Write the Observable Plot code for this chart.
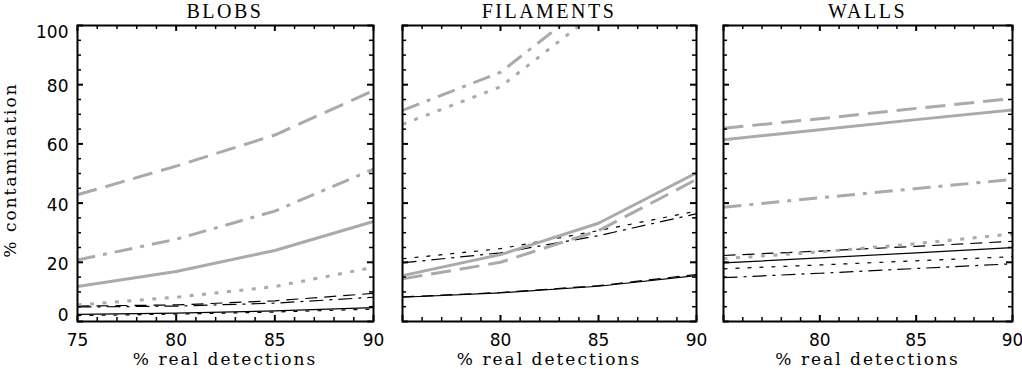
<!DOCTYPE html>
<html>
<head>
<meta charset="utf-8">
<script src="https://cdn.jsdelivr.net/npm/d3@7"></script>
<script src="https://cdn.jsdelivr.net/npm/@observablehq/plot@0.6"></script>
<style>
  html, body { margin: 0; padding: 0; background: #fff; }
  #chart { position: relative; width: 1022px; height: 369px; overflow: hidden; background: #fff; }
  #chart svg { position: absolute; left: 0; top: 0; }
  .ptitle { position: absolute; top: 1px; height: 20px; line-height: 20px; text-align: center;
            font-family: "Liberation Serif", serif; font-size: 20px; letter-spacing: 2.5px; color: #000; }
  .xtitle { position: absolute; top: 349px; height: 20px; line-height: 20px; text-align: center;
            font-family: "DejaVu Serif", serif; font-size: 17px; letter-spacing: 2px; color: #000; }
  .ytitle { position: absolute; left: -90px; top: 159px; width: 200px; height: 22px; line-height: 22px;
            text-align: center; transform: rotate(-90deg); transform-origin: 50% 50%;
            font-family: "DejaVu Serif", serif; font-size: 17px; letter-spacing: 2px; color: #000; }
</style>
</head>
<body>
<div id="chart"></div>
<script>
// ---------------- data ----------------
const xValues = [75, 80, 85, 90];
const panelNames = ["BLOBS", "FILAMENTS", "WALLS"];
const xTitle = "% real detections";
const yTitle = "% contamination";
const xTickLabelsFirst = [75, 80, 85, 90];
const xTickLabelsOther = [80, 85, 90];
const yTickLabels = [0, 20, 40, 60, 80, 100];

// BLOBS
const blobsGreySolid    = [11.8, 16.9, 24.0, 33.8];
const blobsGreyDashed   = [42.8, 52.5, 63.0, 78.0];
const blobsGreyDashDot  = [20.8, 27.8, 37.3, 51.5];
const blobsGreyDotted   = [5.6, 8.2, 11.8, 18.3];
const blobsBlackSolid   = [2.4, 2.8, 3.6, 4.7];
const blobsBlackDashed  = [5.2, 5.6, 7.0, 9.5];
const blobsBlackDashDot = [4.9, 5.2, 6.2, 8.2];
const blobsBlackDotted  = [2.0, 2.5, 3.2, 4.2];

// FILAMENTS
const filGreySolid    = [15.5, 22.6, 33.2, 50.2];
const filGreyDashed   = [14.4, 20.0, 30.7, 48.0];
const filGreyDashDot  = [71.3, 84.2, 110.0, 140.0];
const filGreyDotted   = [66.6, 79.3, 105.0, 135.0];
const filBlackSolid   = [8.2, 9.7, 11.9, 15.5];
const filBlackDashed  = [8.3, 9.8, 12.1, 15.9];
const filBlackDashDot = [19.8, 23.2, 29.0, 36.4];
const filBlackDotted  = [21.2, 24.6, 30.7, 37.3];

// WALLS
const wallsGreySolid    = [61.4, 64.8, 68.2, 71.5];
const wallsGreyDashed   = [65.3, 68.5, 72.0, 75.3];
const wallsGreyDashDot  = [38.6, 41.8, 44.9, 48.0];
const wallsGreyDotted   = [21.2, 23.5, 26.3, 29.6];
const wallsBlackSolid   = [19.8, 21.5, 23.2, 25.0];
const wallsBlackDashed  = [22.3, 23.8, 25.4, 27.1];
const wallsBlackDashDot = [14.8, 16.3, 17.9, 19.5];
const wallsBlackDotted  = [17.8, 19.1, 20.5, 21.9];

const seriesNames = ["greySolid", "greyDashed", "greyDashDot", "greyDotted",
                     "blackSolid", "blackDashed", "blackDashDot", "blackDotted"];
const panelSeries = [
  [blobsGreySolid, blobsGreyDashed, blobsGreyDashDot, blobsGreyDotted,
   blobsBlackSolid, blobsBlackDashed, blobsBlackDashDot, blobsBlackDotted],
  [filGreySolid, filGreyDashed, filGreyDashDot, filGreyDotted,
   filBlackSolid, filBlackDashed, filBlackDashDot, filBlackDotted],
  [wallsGreySolid, wallsGreyDashed, wallsGreyDashDot, wallsGreyDotted,
   wallsBlackSolid, wallsBlackDashed, wallsBlackDashDot, wallsBlackDotted]
];

// ---------------- styles / layout ----------------
const GREY = "#aaaaaa";
const seriesStyle = {
  greySolid:    {stroke: GREY, strokeWidth: 3, strokeDasharray: null},
  greyDashed:   {stroke: GREY, strokeWidth: 3, strokeDasharray: "20,9"},
  greyDashDot:  {stroke: GREY, strokeWidth: 3, strokeDasharray: "18,8,4,8"},
  greyDotted:   {stroke: GREY, strokeWidth: 3, strokeDasharray: "4,8.5"},
  blackSolid:   {stroke: "#000", strokeWidth: 1.2, strokeDasharray: null},
  blackDashed:  {stroke: "#000", strokeWidth: 1.2, strokeDasharray: "12,7"},
  blackDashDot: {stroke: "#000", strokeWidth: 1.2, strokeDasharray: "14,6,3,6"},
  blackDotted:  {stroke: "#000", strokeWidth: 1.2, strokeDasharray: "4,8"}
};
const W = 1022, H = 369;
const frameTop = 25, frameBottom = 321;
const panelFrames = [[77, 373], [402, 696], [723, 1012]];

const xMajor = [75, 80, 85, 90];
const xMinor = d3.range(75, 91).filter(v => v % 5 !== 0);
const yMajor = [0, 20, 40, 60, 80, 100];
const yMinor = d3.range(0, 101, 5).filter(v => v % 20 !== 0);

const chart = document.getElementById("chart");

panelNames.forEach((name, i) => {
  const [L, R] = panelFrames[i];
  const fw = R - L, fh = frameBottom - frameTop;
  const marks = [];

  const order = [4, 5, 6, 7, 0, 1, 2, 3];
  for (const k of order) {
    const vals = panelSeries[i][k];
    const rows = xValues.map((x, j) => ({x, y: vals[j]}));
    const st = seriesStyle[seriesNames[k]];
    const opts = {x: "x", y: "y", stroke: st.stroke, strokeWidth: st.strokeWidth,
                  strokeLinecap: "butt", strokeLinejoin: "round", clip: true};
    if (st.strokeDasharray) opts.strokeDasharray = st.strokeDasharray;
    marks.push(Plot.line(rows, opts));
  }

  const maj = 6, mnr = 4;
  marks.push(Plot.tickX(xMajor, {x: d => d, insetTop: fh - maj, stroke: "#000", strokeWidth: 2}));
  marks.push(Plot.tickX(xMajor, {x: d => d, insetBottom: fh - maj, stroke: "#000", strokeWidth: 2}));
  marks.push(Plot.tickX(xMinor, {x: d => d, insetTop: fh - mnr, stroke: "#000", strokeWidth: 1.5}));
  marks.push(Plot.tickX(xMinor, {x: d => d, insetBottom: fh - mnr, stroke: "#000", strokeWidth: 1.5}));
  marks.push(Plot.tickY(yMajor, {y: d => d, insetRight: fw - maj, stroke: "#000", strokeWidth: 2}));
  marks.push(Plot.tickY(yMajor, {y: d => d, insetLeft: fw - maj, stroke: "#000", strokeWidth: 2}));
  marks.push(Plot.tickY(yMinor, {y: d => d, insetRight: fw - mnr, stroke: "#000", strokeWidth: 1.5}));
  marks.push(Plot.tickY(yMinor, {y: d => d, insetLeft: fw - mnr, stroke: "#000", strokeWidth: 1.5}));
  marks.push(Plot.frame({stroke: "#000", strokeWidth: 2}));

  marks.push(Plot.axisX({ticks: i === 0 ? xTickLabelsFirst : xTickLabelsOther, tickSize: 0,
                         tickPadding: 12, label: null, tickFormat: d => String(d)}));
  if (i === 0) {
    const mid = yTickLabels.filter(v => v !== 0 && v !== 100);
    marks.push(Plot.axisY({ticks: mid, tickSize: 0, tickPadding: 9, label: null, dy: 2, tickFormat: d => String(d)}));
    marks.push(Plot.axisY({ticks: [100], tickSize: 0, tickPadding: 9, label: null, dy: 7, tickFormat: d => String(d)}));
    marks.push(Plot.axisY({ticks: [0], tickSize: 0, tickPadding: 9, label: null, dy: -6, tickFormat: d => String(d)}));
  }

  const svg = Plot.plot({
    width: W, height: H,
    marginLeft: L, marginRight: W - R, marginTop: frameTop, marginBottom: H - frameBottom,
    x: {domain: [75, 90], axis: null},
    y: {domain: [0, 100], axis: null},
    style: {background: "transparent", fontFamily: "DejaVu Sans", fontSize: "17px", color: "#000", overflow: "visible"},
    marks
  });
  chart.appendChild(svg);

  const t = document.createElement("div");
  t.className = "ptitle";
  t.style.left = L + "px";
  t.style.width = fw + "px";
  t.textContent = name;
  chart.appendChild(t);

  const xt = document.createElement("div");
  xt.className = "xtitle";
  xt.style.left = (L - 20) + "px";
  xt.style.width = (fw + 40) + "px";
  xt.textContent = xTitle;
  chart.appendChild(xt);
});

const yt = document.createElement("div");
yt.className = "ytitle";
yt.textContent = yTitle;
chart.appendChild(yt);
</script>
</body>
</html>
